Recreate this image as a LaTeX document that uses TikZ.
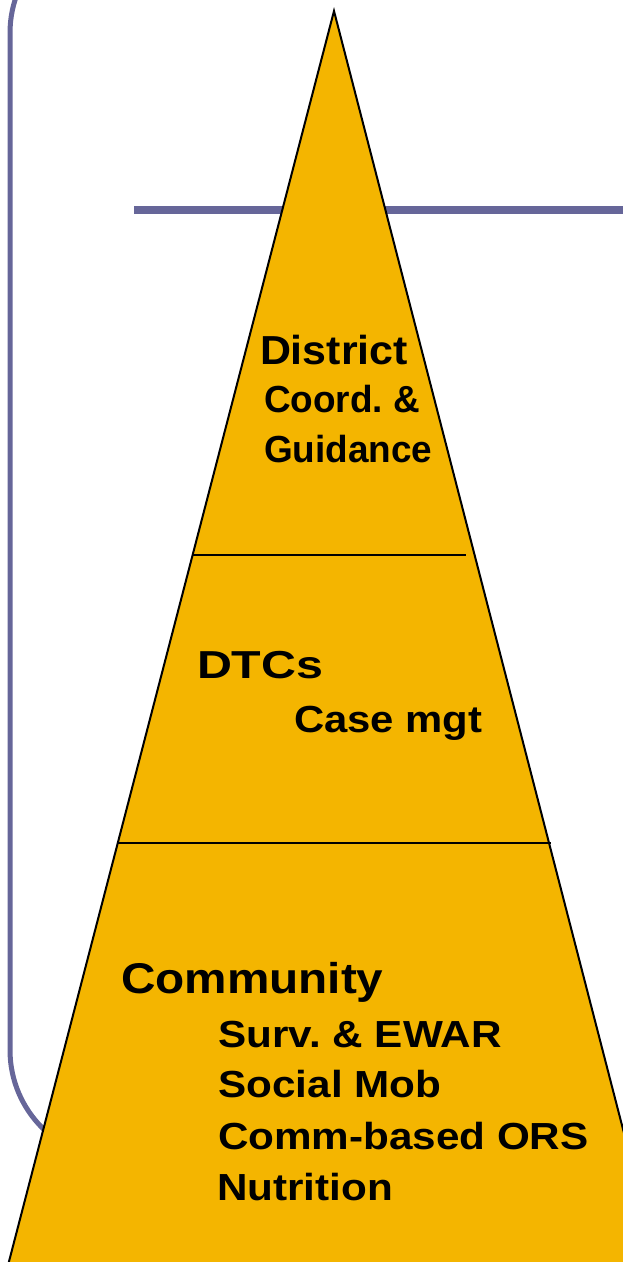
\documentclass[tikz,border=0pt]{standalone}
\usepackage{fontspec}
\usepackage{graphicx}
\setmainfont{Liberation Sans}
\definecolor{framecol}{HTML}{666699}
\definecolor{goldcol}{HTML}{F4B500}
\newcommand{\hstretch}[2]{\scalebox{#1}[1]{#2}}
\begin{document}
\frenchspacing
\begin{tikzpicture}[x=1pt,y=-1pt,
  frameline/.style={draw=framecol, line width=5pt},
  barfill/.style={fill=framecol},
  tri/.style={fill=goldcol, draw=black, line width=2pt, line join=miter},
  divider/.style={draw=black, line width=2pt},
  title/.style={anchor=base west, inner sep=0pt, outer sep=0pt, font=\bfseries\fontsize{40.5}{48}\selectfont},
  item/.style={anchor=base west, inner sep=0pt, outer sep=0pt, font=\bfseries\fontsize{37.7}{45}\selectfont}]
\useasboundingbox (0,0) rectangle (623,1262);
\clip (0,0) rectangle (623,1262);
\draw[frameline, rounded corners=110pt] (10,-77) rectangle (800,1160);
\fill[barfill] (134,206) rectangle (640,214);
\coordinate (apex) at (334,11);
\coordinate (baseR) at (693,1400);
\coordinate (baseL) at (-27,1400);
\draw[tri] (apex) -- (baseR) -- (baseL) -- cycle;
\coordinate (d1l) at (192,555);
\coordinate (d1r) at (466,555);
\coordinate (d2l) at (117,843);
\coordinate (d2r) at (551,843);
\draw[divider] (d1l) -- (d1r);
\draw[divider] (d2l) -- (d2r);
\node[title] (district) at (260,364) {\hstretch{1.06}{District}};
\node[item] (coord) at (264,412) {\hstretch{0.98}{Coord. \&}};
\node[item] (guid) at (264,462) {\hstretch{0.98}{Guidance}};
\node[title, font=\bfseries\fontsize{39}{45}\selectfont] (dtcs) at (197,678) {\hstretch{1.24}{DTCs}};
\node[item] (case) at (294,732) {\hstretch{1.11}{Case mgt}};
\node[title, font=\bfseries\fontsize{43}{50}\selectfont] (comm) at (121,993) {\hstretch{1.11}{Community}};
\node[item] (surv) at (218.5,1047) {\hstretch{1.12}{Surv. \& EWAR}};
\node[item] (social) at (218.5,1097) {\hstretch{1.12}{Social Mob}};
\node[item] (ors) at (218,1149) {\hstretch{1.12}{Comm-based ORS}};
\node[item] (nutr) at (217,1200) {\hstretch{1.12}{Nutrition}};
\end{tikzpicture}
\end{document}
